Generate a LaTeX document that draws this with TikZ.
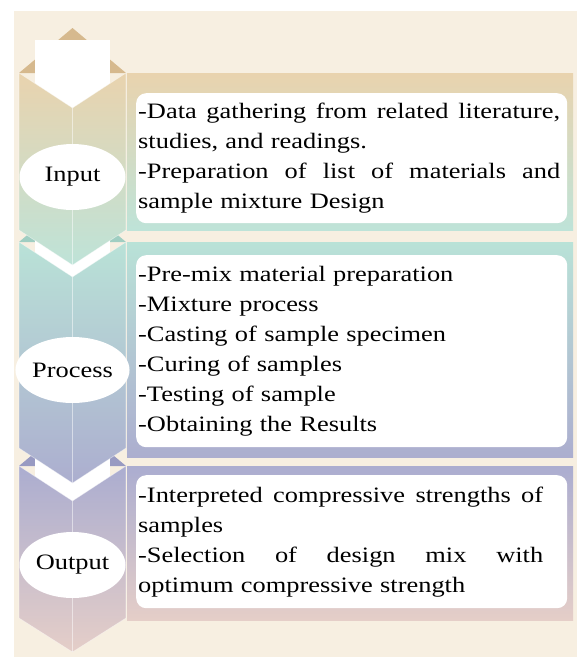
\documentclass[tikz,border=0pt]{standalone}
\usepackage{fontspec}
\setmainfont{Liberation Serif}[FakeStretch=1.2]
\usetikzlibrary{shapes.geometric,positioning,calc}

\definecolor{cream}{RGB}{247,239,225}
\definecolor{inTop}{RGB}{233,211,174}
\definecolor{inBot}{RGB}{190,227,216}
\definecolor{inFlap}{RGB}{214,185,142}
\definecolor{prTop}{RGB}{185,226,215}
\definecolor{prBot}{RGB}{172,174,207}
\definecolor{prFlap}{RGB}{160,206,194}
\definecolor{ouTop}{RGB}{171,173,208}
\definecolor{ouBot}{RGB}{229,206,200}
\definecolor{ouFlap}{RGB}{152,154,194}

% justified line, stretched to the full text width (align=left fixes \spaceskip, so reset it)
\newcommand{\jline}[1]{\makebox[\hsize][s]{\spaceskip=0pt\xspaceskip=0pt\relax #1}}

\begin{document}
\begin{tikzpicture}[x=1pt,y=-1pt]
\tikzstyle{stagebody} = [draw=white, draw opacity=0.45, line width=0.6pt]
\tikzstyle{fold} = [white, opacity=0.5, line width=0.6pt]
\tikzstyle{stagelabel} = [ellipse, fill=white, minimum width=106pt, minimum height=66pt, inner sep=0pt, font=\fontsize{22}{30}\selectfont]
\tikzstyle{textbox} = [rectangle, rounded corners=10pt, fill=white, inner sep=0pt, anchor=north west]
\tikzstyle{boxtext} = [anchor=west, inner sep=0pt, align=left, font=\fontsize{22}{30}\selectfont]

\useasboundingbox (0,0) rectangle (577,657);
\fill[cream] (14,11) rectangle (577,657);

% panels on the right
\shade[top color=inTop, bottom color=inBot] (127,73) rectangle (573,230);
\shade[top color=prTop, bottom color=prBot] (127,242) rectangle (573,457);
\shade[top color=ouTop, bottom color=ouBot] (127,466) rectangle (573,620);

% output column (bottom first, the ones above overlap it)
\fill[ouFlap] (19,466) -- (72.5,421) -- (126,466) -- cycle;
\fill[white] (35,430) rectangle (110,510);
\shade[top color=ouTop, bottom color=ouBot, stagebody] (19,466) -- (72.5,501) -- (126,466) -- (126,618) -- (72.5,652) -- (19,618) -- cycle;
\draw[fold] (72.5,501) -- (72.5,652);

% process column
\fill[prFlap] (19,242) -- (72.5,197) -- (126,242) -- cycle;
\fill[white] (35,205) rectangle (110,285);
\shade[top color=prTop, bottom color=prBot, stagebody] (19,242) -- (72.5,277) -- (126,242) -- (126,448) -- (72.5,483) -- (19,448) -- cycle;
\draw[fold] (72.5,277) -- (72.5,483);

% input column
\fill[inFlap] (19,73) -- (72.5,28) -- (126,73) -- cycle;
\fill[white] (35,40) rectangle (110,115);
\shade[top color=inTop, bottom color=inBot, stagebody] (19,73) -- (72.5,108) -- (126,73) -- (126,230) -- (72.5,265) -- (19,230) -- cycle;
\draw[fold] (72.5,108) -- (72.5,265);

% labels
\node[stagelabel] (input) at (72.5,177) {Input};
\node[stagelabel] (process) at (72.5,370) {Process};
\node[stagelabel] (output) at (72.5,565) {Output};

% text boxes
\node[textbox, minimum width=431pt, minimum height=130pt] (inbox) at (136,93) {};
\node[boxtext, text width=422pt] (intext) at ([xshift=2pt]inbox.west) {\jline{-Data gathering from related literature,}\\studies, and readings.\\\jline{-Preparation of list of materials and}\\sample mixture Design};

\node[textbox, minimum width=431pt, minimum height=192pt] (prbox) at (136,255) {};
\node[boxtext, text width=422pt] (prtext) at ([xshift=2pt]prbox.west) {-Pre-mix material preparation\\-Mixture process\\-Casting of sample specimen\\-Curing of samples\\-Testing of sample\\-Obtaining the Results};

\node[textbox, minimum width=431pt, minimum height=133pt] (oubox) at (136,475) {};
\node[boxtext, text width=405pt] (outext) at ([xshift=2pt]oubox.west) {\jline{-Interpreted compressive strengths of}\\samples\\\jline{-Selection of design mix with}\\optimum compressive strength};

\end{tikzpicture}
\end{document}
